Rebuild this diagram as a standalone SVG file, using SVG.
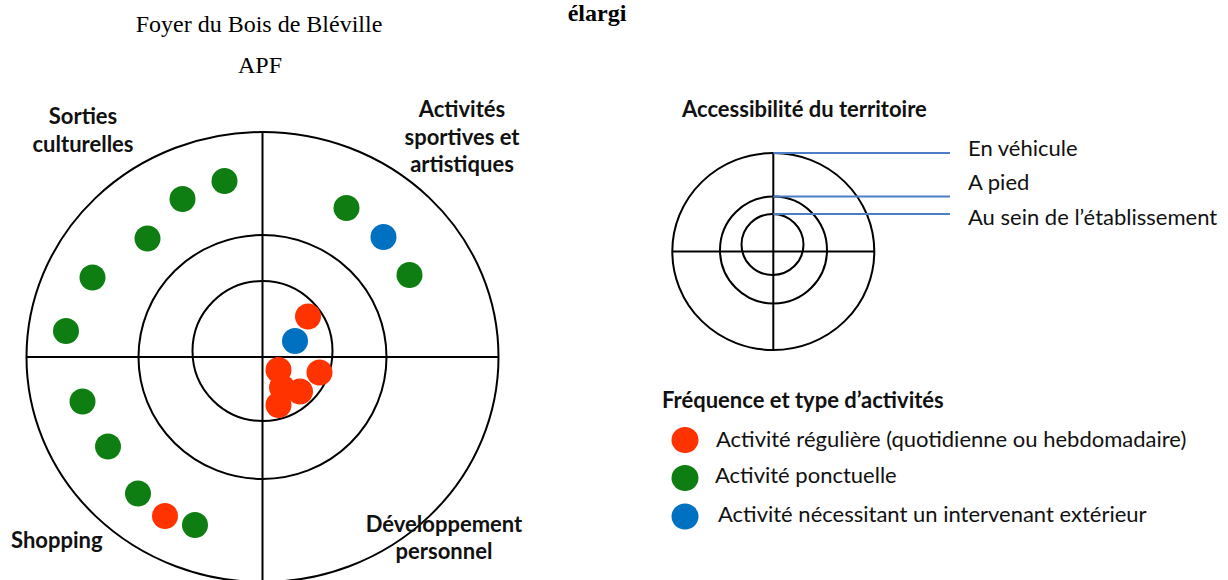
<svg xmlns="http://www.w3.org/2000/svg" width="1228" height="580" viewBox="0 0 1228 580">
<style>
.ring{fill:none;stroke:#000;stroke-width:2}
.ax{stroke:#000;stroke-width:2}
.lead{stroke:#4A7EC7;stroke-width:2}
.hd{font-family:"Liberation Serif",serif;font-size:24px;fill:#000}
.hb{font-family:"Liberation Serif",serif;font-size:24px;font-weight:bold;fill:#000}
.lb{font-family:Lato,"Open Sans",sans-serif;font-size:22px;font-weight:bold;fill:#111}
.tx{font-family:Lato,"Open Sans",sans-serif;font-size:22px;fill:#111}
.r{fill:#FF3300}
.g{fill:#0E7E12}
.b{fill:#0070C0}
</style>
<g id="header">
<text class="hb" x="597" y="21" text-anchor="middle">élargi</text>
<text class="hd" x="259" y="32" text-anchor="middle">Foyer du Bois de Bléville</text>
<text class="hd" x="260" y="73" text-anchor="middle">APF</text>
</g>
<g id="target">
<ellipse class="ring" cx="262.5" cy="357" rx="236" ry="225"/>
<ellipse class="ring" cx="262.5" cy="357" rx="124" ry="122"/>
<circle class="ring" cx="262.5" cy="351" r="70"/>
<line class="ax" x1="26" y1="357" x2="498" y2="357"/>
<line class="ax" x1="262.5" y1="132" x2="262.5" y2="580"/>
</g>
<g id="label-sorties"><text class="lb" text-anchor="middle"><tspan x="83" y="124">Sorties</tspan><tspan x="83" y="152">culturelles</tspan></text></g>
<g id="label-sportives"><text class="lb" text-anchor="middle"><tspan x="462" y="117">Activités</tspan><tspan x="462" y="145">sportives et</tspan><tspan x="462" y="172">artistiques</tspan></text></g>
<g id="label-shopping"><text class="lb" x="11" y="548">Shopping</text></g>
<g id="label-developpement"><text class="lb" text-anchor="middle"><tspan x="444" y="532">Développement</tspan><tspan x="444" y="559">personnel</tspan></text></g>
<g id="dots">
<circle class="g" cx="224.5" cy="181" r="13"/>
<circle class="g" cx="182.5" cy="199" r="13"/>
<circle class="g" cx="147.5" cy="238.5" r="13"/>
<circle class="g" cx="92.5" cy="277.5" r="13"/>
<circle class="g" cx="66" cy="331" r="13"/>
<circle class="g" cx="346.5" cy="208" r="13"/>
<circle class="b" cx="383.5" cy="237" r="13"/>
<circle class="g" cx="409.5" cy="275" r="13"/>
<circle class="r" cx="308" cy="316.5" r="13"/>
<circle class="b" cx="295" cy="341" r="13"/>
<circle class="r" cx="278.5" cy="370" r="13"/>
<circle class="r" cx="319.5" cy="372.5" r="13"/>
<circle class="r" cx="282" cy="387.5" r="13"/>
<circle class="r" cx="300" cy="391.5" r="13"/>
<circle class="r" cx="278.5" cy="405" r="13"/>
<circle class="g" cx="82.5" cy="401.5" r="13"/>
<circle class="g" cx="108" cy="446.5" r="13"/>
<circle class="g" cx="138" cy="493.5" r="13"/>
<circle class="r" cx="165" cy="516" r="13"/>
<circle class="g" cx="195" cy="525" r="13"/>
</g>
<g id="access-key">
<text class="lb" x="682" y="117">Accessibilité du territoire</text>
<ellipse class="ring" cx="773.3" cy="251.5" rx="101" ry="98.5"/>
<ellipse class="ring" cx="773.5" cy="250" rx="53.5" ry="53.5"/>
<ellipse class="ring" cx="772.5" cy="244.5" rx="31" ry="30.5"/>
<line class="ax" x1="672" y1="251.5" x2="874.5" y2="251.5"/>
<line class="ax" x1="773.3" y1="153" x2="773.3" y2="350"/>
</g>
<g id="connectors">
<line class="lead" x1="773.3" y1="153" x2="950" y2="153"/>
<line class="lead" x1="773.3" y1="196.5" x2="950" y2="196.5"/>
<line class="lead" x1="773.3" y1="214" x2="950" y2="214"/>
</g>
<g id="access-labels">
<text class="tx" x="968" y="156">En véhicule</text>
<text class="tx" x="968" y="190">A pied</text>
<text class="tx" x="968" y="225">Au sein de l’établissement</text>
</g>
<g id="legend">
<text class="lb" x="662" y="408">Fréquence et type d’activités</text>
<ellipse class="r" cx="685" cy="440" rx="13.5" ry="13"/>
<text class="tx" x="716" y="447">Activité régulière (quotidienne ou hebdomadaire)</text>
<ellipse class="g" cx="685" cy="478" rx="13.5" ry="13"/>
<text class="tx" x="715" y="483">Activité ponctuelle</text>
<ellipse class="b" cx="685" cy="516.5" rx="13.5" ry="13"/>
<text class="tx" x="718" y="522">Activité nécessitant un intervenant extérieur</text>
</g>
</svg>
